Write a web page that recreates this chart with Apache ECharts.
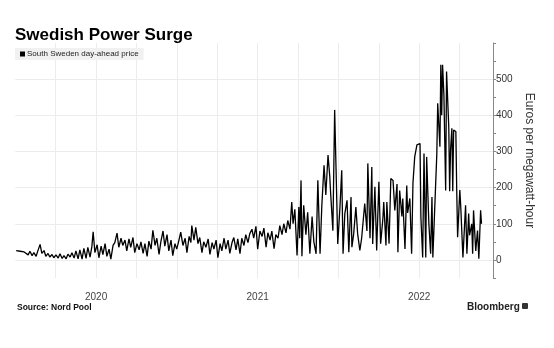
<!DOCTYPE html>
<html>
<head>
<meta charset="utf-8">
<script src="https://cdn.jsdelivr.net/npm/echarts@6/dist/echarts.min.js"></script>
<style>
html,body{margin:0;padding:0;background:#fff;}
#c{width:554px;height:348px;}
</style>
</head>
<body>
<div id="c"></div>
<script>
const titleText = 'Swedish Power Surge';
const seriesName = 'South Sweden day-ahead price';
const yAxisName = 'Euros per megawatt-hour';
const sourceText = 'Source: Nord Pool';
const yearLabels = ['2020', '2021', '2022'];

const dates = [
'2020-01-03','2020-01-07','2020-01-12','2020-01-16','2020-01-21','2020-01-25','2020-01-30','2020-02-03','2020-02-08','2020-02-12',
'2020-02-17','2020-02-21','2020-02-26','2020-03-01','2020-03-06','2020-03-10','2020-03-15','2020-03-19','2020-03-24','2020-03-28',
'2020-04-02','2020-04-07','2020-04-11','2020-04-16','2020-04-20','2020-04-25','2020-04-29','2020-05-04','2020-05-08','2020-05-13',
'2020-05-17','2020-05-22','2020-05-26','2020-05-31','2020-06-04','2020-06-09','2020-06-13','2020-06-18','2020-06-22','2020-06-25',
'2020-06-29','2020-07-04','2020-07-08','2020-07-13','2020-07-17','2020-07-22','2020-07-26','2020-07-31','2020-08-04','2020-08-09',
'2020-08-13','2020-08-18','2020-08-22','2020-08-27','2020-08-31','2020-09-05','2020-09-09','2020-09-14','2020-09-18','2020-09-23',
'2020-09-27','2020-10-02','2020-10-07','2020-10-11','2020-10-16','2020-10-20','2020-10-25','2020-10-29','2020-11-03','2020-11-07',
'2020-11-12','2020-11-16','2020-11-21','2020-11-25','2020-11-30','2020-12-04','2020-12-09','2020-12-13','2020-12-18','2020-12-22',
'2020-12-27','2020-12-31','2021-01-05','2021-01-09','2021-01-14','2021-01-19','2021-01-23','2021-01-28','2021-02-01','2021-02-03',
'2021-02-08','2021-02-12','2021-02-17','2021-02-21','2021-02-26','2021-03-02','2021-03-07','2021-03-12','2021-03-16','2021-03-21',
'2021-03-25','2021-03-30','2021-04-03','2021-04-08','2021-04-12','2021-04-17','2021-04-21','2021-04-26','2021-04-30','2021-05-05',
'2021-05-09','2021-05-14','2021-05-18','2021-05-23','2021-05-27','2021-06-01','2021-06-05','2021-06-10','2021-06-14','2021-06-19',
'2021-06-23','2021-06-28','2021-07-02','2021-07-07','2021-07-12','2021-07-16','2021-07-21','2021-07-25','2021-07-30','2021-08-03',
'2021-08-08','2021-08-12','2021-08-17','2021-08-21','2021-08-26','2021-08-30','2021-09-04','2021-09-08','2021-09-13','2021-09-17',
'2021-09-20','2021-09-24','2021-09-29','2021-10-03','2021-10-05','2021-10-08','2021-10-10','2021-10-14','2021-10-19','2021-10-23',
'2021-10-28','2021-11-02','2021-11-06','2021-11-11','2021-11-15','2021-11-20','2021-11-24','2021-11-29','2021-12-03','2021-12-08',
'2021-12-12','2021-12-14','2021-12-19','2021-12-23','2021-12-28','2021-12-30','2022-01-04','2022-01-08','2022-01-11','2022-01-15',
'2022-01-20','2022-01-24','2022-01-29','2022-01-31','2022-02-04','2022-02-09','2022-02-13','2022-02-18','2022-02-22','2022-03-01',
'2022-03-06','2022-03-08','2022-03-13','2022-03-17','2022-03-19','2022-03-24','2022-03-28','2022-04-02','2022-04-06','2022-04-11',
'2022-04-13','2022-04-18','2022-04-20','2022-04-25','2022-04-29','2022-05-04','2022-05-08','2022-05-13','2022-05-15','2022-05-19',
'2022-05-24','2022-05-26','2022-05-31','2022-06-04','2022-06-06','2022-06-11','2022-06-15','2022-06-18','2022-06-22','2022-06-27',
'2022-06-29','2022-07-04','2022-07-06','2022-07-10','2022-07-13','2022-07-17','2022-07-19','2022-07-24','2022-07-28','2022-07-31',
'2022-08-02','2022-08-06','2022-08-11','2022-08-13','2022-08-18','2022-08-20','2022-08-22','2022-08-24','2022-08-27','2022-08-31',
'2022-09-02','2022-09-07','2022-09-09','2022-09-11','2022-09-14','2022-09-16','2022-09-18','2022-09-23','2022-09-25','2022-09-27',
'2022-10-02','2022-10-04','2022-10-09','2022-10-11','2022-10-15','2022-10-18','2022-10-22','2022-10-24','2022-10-29','2022-10-31',
'2022-11-02','2022-11-07','2022-11-11','2022-11-14','2022-11-18','2022-11-20'
];

const prices = [
26,30,24,28,22,27,14,24,12,20,
10,25,43,18,26,10,18,8,15,6,
14,5,17,4,12,3,16,8,20,5,
25,3,28,2,32,4,35,8,36,78,
20,42,6,38,15,45,10,30,2,40,
48,74,35,60,40,55,25,58,35,62,
20,45,28,50,18,45,10,52,30,82,
40,60,15,50,80,38,70,25,55,12,
45,30,55,77,40,60,20,65,48,95,
55,90,45,62,20,50,35,58,15,48,
30,55,6,45,25,60,30,55,18,48,
62,28,58,17,60,40,70,48,72,85,
60,93,30,80,65,88,35,75,55,80,
31,70,60,95,70,100,75,109,85,160,
100,140,12,146,60,220,10,151,70,132,
17,120,50,17,220,17,150,262,180,290,
230,183,81,415,155,44,146,248,17,128,
165,21,174,35,72,146,72,26,60,156,
80,267,60,257,44,202,26,216,45,114,
160,40,160,45,225,220,137,210,21,192,
120,170,30,206,130,170,17,211,285,318,
313,322,118,7,294,7,285,100,17,174,
7,7,294,433,313,540,400,540,456,192,
521,368,190,304,364,190,359,355,193,63,
193,150,7,7,151,17,128,68,100,17,
137,25,81,3,137,100
];

const base = Date.UTC(2020, 0, 1);
const dayOf = s => (Date.parse(s + 'T00:00:00Z') - base) / 86400000;
const Q = 365.25 / 4;
const seriesData = dates.map((d, i) => [dayOf(d), prices[i]]);

const chart = echarts.init(document.getElementById('c'), null, {renderer: 'canvas'});
chart.setOption({
  animation: false,
  backgroundColor: '#fff',
  title: [
    {text: titleText, left: 15, top: 27, padding: 0,
     textStyle: {fontFamily: 'Liberation Sans', fontWeight: 'bold', fontSize: 17, color: '#000'}},
    {text: sourceText, left: 17, top: 303, padding: 0,
     textStyle: {fontFamily: 'Liberation Sans', fontWeight: 'bold', fontSize: 8.5, color: '#111'}},
    {text: 'Bloomberg', left: 467, top: 302, padding: 0,
     textStyle: {fontFamily: 'Liberation Sans', fontWeight: 'bold', fontSize: 10, color: '#222'}}
  ],
  graphic: [
    {type: 'rect', left: 522, top: 303, shape: {width: 6, height: 6, r: 1}, style: {fill: '#333'}}
  ],
  legend: {
    left: 15, top: 48, data: [seriesName], icon: 'rect', itemWidth: 5, itemHeight: 5,
    backgroundColor: '#f1f1f1', padding: [2, 5, 2, 5], borderRadius: 0,
    textStyle: {fontFamily: 'Liberation Sans', fontSize: 8, color: '#222', padding: [0, 0, 0, -3]}
  },
  grid: {left: 15.3, right: 61, top: 43, bottom: 70, containLabel: false},
  xAxis: {
    type: 'value', min: 0, max: 1080, interval: Q,
    axisLine: {show: false}, axisTick: {show: false},
    splitLine: {show: true, showMinLine: false, lineStyle: {color: '#ececec', width: 1}},
    axisLabel: {
      margin: 14, fontSize: 10, color: '#444', fontFamily: 'Liberation Sans',
      showMinLabel: true, showMaxLabel: true,
      formatter: v => { const k = Math.round(v / Q); return (k % 4 === 2) ? yearLabels[(k - 2) / 4] : ''; }
    }
  },
  yAxis: {
    type: 'value', position: 'right', min: -50, max: 600, interval: 50,
    axisLine: {show: true, onZero: false, lineStyle: {color: '#888', width: 1}},
    axisTick: {show: true, length: 3, lineStyle: {color: '#888'}},
    axisLabel: {
      margin: 3, fontSize: 10, color: '#333', fontFamily: 'Liberation Sans',
      formatter: v => (v >= 0 && v <= 500 && v % 100 === 0) ? String(v) : ''
    },
    splitLine: {show: true, showMaxLine: false, lineStyle: {color: ['rgba(0,0,0,0)', '#ececec'], width: 1}},
    name: yAxisName, nameLocation: 'middle', nameRotate: -90, nameGap: 25,
    nameTextStyle: {fontFamily: 'Liberation Sans', fontSize: 12, color: '#333'}
  },
  series: [{
    name: seriesName, type: 'line', data: seriesData, showSymbol: false,
    color: '#000', lineStyle: {color: '#000', width: 1.3}, itemStyle: {color: '#000'}
  }]
});
</script>
</body>
</html>
